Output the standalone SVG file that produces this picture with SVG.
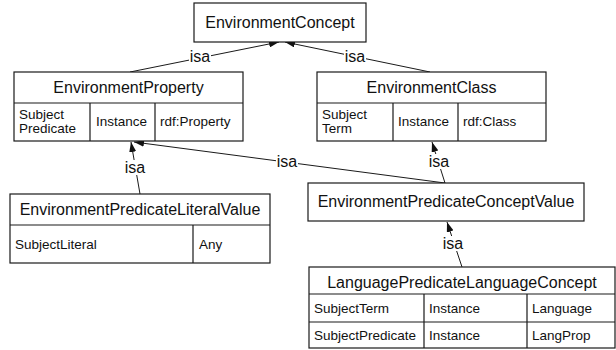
<svg xmlns="http://www.w3.org/2000/svg" width="616" height="350" viewBox="0 0 616 350">
  <style>
    .box { fill: #fff; stroke: #1a1a1a; stroke-width: 1.2; }
    .div { stroke: #1a1a1a; stroke-width: 1.2; fill: none; }
    .title { font-family: "Liberation Sans", Arial, sans-serif; font-size: 16px; fill: #111; text-anchor: middle; }
    .cell { font-family: "Liberation Sans", Arial, sans-serif; font-size: 13.5px; fill: #111; }
    .edge { stroke: #1a1a1a; stroke-width: 1; fill: none; marker-end: url(#arrow); }
    .lbl { font-family: "Liberation Sans", Arial, sans-serif; font-size: 16px; fill: #111; text-anchor: middle; }
    .lblbg { fill: #fff; }
  </style>
  <defs>
    <marker id="arrow" markerUnits="userSpaceOnUse" markerWidth="10" markerHeight="7" refX="10" refY="3.5" orient="auto">
      <path d="M0,0 L10,3.5 L0,7 z" fill="#111"/>
    </marker>
  </defs>
  <rect width="616" height="350" fill="#fff"/>

  <!-- connectors -->
  <g id="connectors">
    <line class="edge" x1="130" y1="72" x2="279" y2="42"/>
    <line class="edge" x1="430" y1="72" x2="285" y2="42"/>
    <line class="edge" x1="140" y1="194" x2="131" y2="142"/>
    <line class="edge" x1="445" y1="183" x2="134" y2="142"/>
    <line class="edge" x1="445" y1="183" x2="432" y2="142"/>
    <line class="edge" x1="462" y1="267" x2="447" y2="222"/>
    <rect class="lblbg" x="189" y="49" width="22" height="15"/>
    <text class="lbl" x="200" y="62">isa</text>
    <rect class="lblbg" x="344" y="49" width="22" height="15"/>
    <text class="lbl" x="355" y="62">isa</text>
    <rect class="lblbg" x="124" y="160" width="22" height="15"/>
    <text class="lbl" x="135" y="173">isa</text>
    <rect class="lblbg" x="276" y="154" width="22" height="15"/>
    <text class="lbl" x="287" y="167">isa</text>
    <rect class="lblbg" x="428" y="154" width="22" height="15"/>
    <text class="lbl" x="439" y="167">isa</text>
    <rect class="lblbg" x="442" y="236" width="22" height="15"/>
    <text class="lbl" x="453" y="249">isa</text>
  </g>

  <g id="EnvironmentConcept">
    <rect class="box" x="194" y="3" width="172" height="39"/>
    <text class="title" x="280" y="28">EnvironmentConcept</text>
  </g>

  <g id="EnvironmentProperty">
    <rect class="box" x="14" y="72" width="229" height="69"/>
    <path class="div" d="M14,103 H243 M90,103 V141 M155,103 V141"/>
    <text class="title" x="128.5" y="93">EnvironmentProperty</text>
    <text class="cell" x="19" y="119">Subject</text>
    <text class="cell" x="19" y="133">Predicate</text>
    <text class="cell" x="96" y="126">Instance</text>
    <text class="cell" x="160" y="126">rdf:Property</text>
  </g>

  <g id="EnvironmentClass">
    <rect class="box" x="317" y="72" width="229" height="69"/>
    <path class="div" d="M317,103 H546 M393,103 V141 M458,103 V141"/>
    <text class="title" x="431.5" y="93">EnvironmentClass</text>
    <text class="cell" x="322" y="119">Subject</text>
    <text class="cell" x="322" y="133">Term</text>
    <text class="cell" x="398" y="126">Instance</text>
    <text class="cell" x="463" y="126">rdf:Class</text>
  </g>

  <g id="EnvironmentPredicateLiteralValue">
    <rect class="box" x="10" y="194" width="260" height="69"/>
    <path class="div" d="M10,225 H270 M193,225 V263"/>
    <text class="title" x="140" y="215">EnvironmentPredicateLiteralValue</text>
    <text class="cell" x="15" y="249">SubjectLiteral</text>
    <text class="cell" x="199" y="249">Any</text>
  </g>

  <g id="EnvironmentPredicateConceptValue">
    <rect class="box" x="308" y="183" width="276" height="38"/>
    <text class="title" x="446" y="207">EnvironmentPredicateConceptValue</text>
  </g>

  <g id="LanguagePredicateLanguageConcept">
    <rect class="box" x="309" y="267" width="306" height="81"/>
    <path class="div" d="M309,294 H615 M309,322 H615 M424,294 V348 M527,294 V348"/>
    <text class="title" x="462" y="288">LanguagePredicateLanguageConcept</text>
    <text class="cell" x="314" y="313">SubjectTerm</text>
    <text class="cell" x="429" y="313">Instance</text>
    <text class="cell" x="532" y="313">Language</text>
    <text class="cell" x="314" y="340">SubjectPredicate</text>
    <text class="cell" x="429" y="340">Instance</text>
    <text class="cell" x="532" y="340">LangProp</text>
  </g>
</svg>
